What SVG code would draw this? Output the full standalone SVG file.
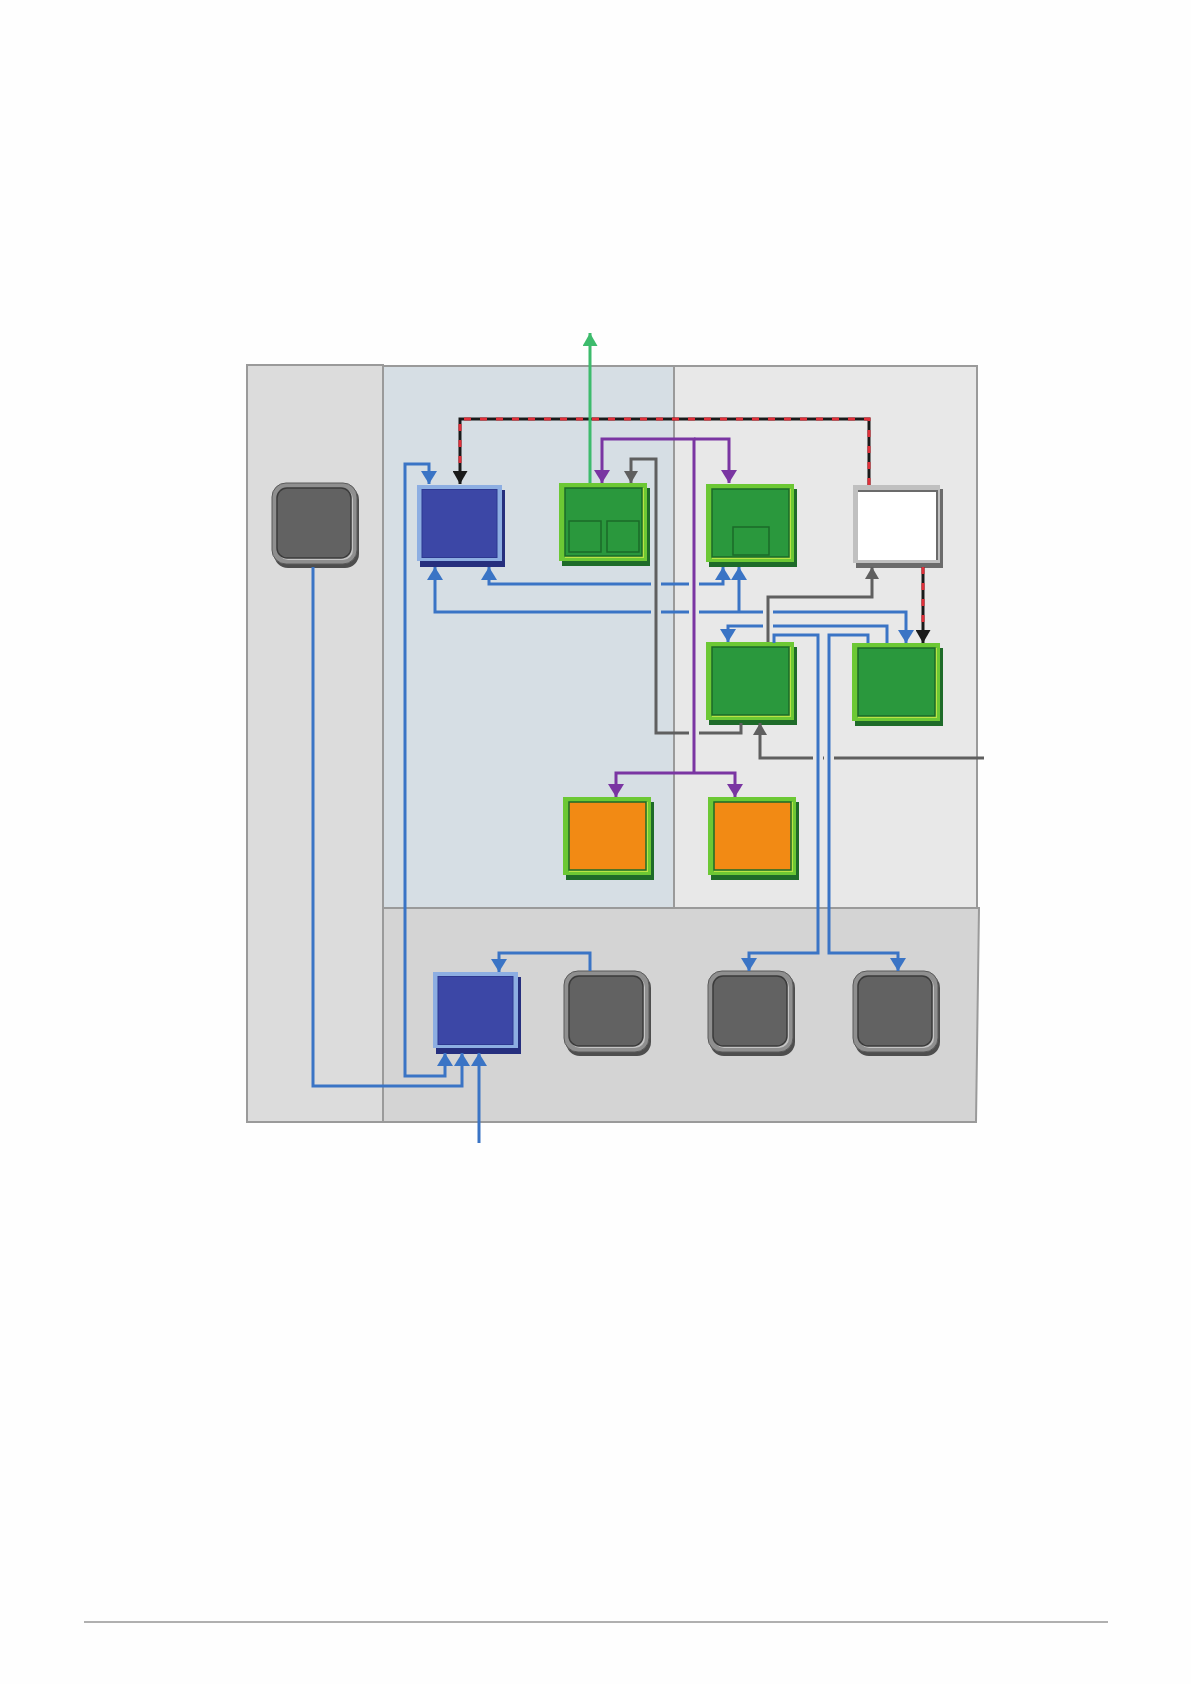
<svg xmlns="http://www.w3.org/2000/svg" xmlns:xlink="http://www.w3.org/1999/xlink" width="1191" height="1684" viewBox="0 0 1191 1684">
<style>
.panel{stroke:#9a9a9a;stroke-width:2}
.c{fill:none;stroke-width:3;stroke-linejoin:miter}
.blue{stroke:#3a74c5}
.purple{stroke:#7a35a2}
.gray{stroke:#5f5f5f}
.green{stroke:#3dbb6c}
.blk{stroke:#1a1a1a}
.red{stroke:#e0303a;stroke-dasharray:7 9}
</style>
<defs>
<marker id="mb" viewBox="0 0 13 16" refX="13" refY="8" markerWidth="13" markerHeight="16" markerUnits="userSpaceOnUse" orient="auto-start-reverse"><path d="M0,0 L13,8 L0,16 z" fill="#3a74c5"/></marker>
<marker id="mp" viewBox="0 0 13 16" refX="13" refY="8" markerWidth="13" markerHeight="16" markerUnits="userSpaceOnUse" orient="auto"><path d="M0,0 L13,8 L0,16 z" fill="#7a35a2"/></marker>
<marker id="mg" viewBox="0 0 12 14" refX="12" refY="7" markerWidth="12" markerHeight="14" markerUnits="userSpaceOnUse" orient="auto"><path d="M0,0 L12,7 L0,14 z" fill="#5f5f5f"/></marker>
<marker id="mk" viewBox="0 0 13 15" refX="13" refY="7.5" markerWidth="13" markerHeight="15" markerUnits="userSpaceOnUse" orient="auto"><path d="M0,0 L13,7.5 L0,15 z" fill="#1a1a1a"/></marker>
<marker id="mgr" viewBox="0 0 13 15" refX="13" refY="7.5" markerWidth="13" markerHeight="15" markerUnits="userSpaceOnUse" orient="auto"><path d="M0,0 L13,7.5 L0,15 z" fill="#3dbb6c"/></marker>
<g id="tGreen">
<rect x="3" y="5" width="88" height="78" fill="#1e6b29"/>
<rect x="0" y="0" width="88" height="78" fill="#6cc834"/>
<rect x="6" y="5" width="79" height="70" fill="#b9e445"/>
<rect x="6" y="5" width="77" height="68" fill="#2a983d" stroke="#1b6a29" stroke-width="1.5"/>
</g>
<g id="tOrange">
<rect x="3" y="5" width="88" height="78" fill="#1e6b29"/>
<rect x="0" y="0" width="88" height="78" fill="#6cc834"/>
<rect x="6" y="5" width="79" height="70" fill="#b9e445"/>
<rect x="6" y="5" width="77" height="68" fill="#f28a14" stroke="#1b6a29" stroke-width="1.5"/>
</g>
<g id="tBlue">
<rect x="3" y="5" width="85" height="77" fill="#262f7e"/>
<rect x="0" y="0" width="85" height="76" fill="#8daee2"/>
<rect x="5" y="4.5" width="75" height="68" fill="#3c47a6" stroke="#2d3890" stroke-width="1"/>
</g>
<g id="tWhite">
<rect x="3" y="4" width="87" height="79" fill="#6b6b6b"/>
<rect x="0" y="0" width="87" height="78" fill="#c0c0c0"/>
<rect x="5" y="5" width="79" height="70" fill="#ffffff"/>
<path d="M5,6 H84 V75" fill="none" stroke="#6b6b6b" stroke-width="2"/>
</g>
<g id="tGray">
<rect x="2" y="3" width="85" height="82" rx="14" fill="#4e4e4e"/>
<rect x="0" y="0" width="85" height="81" rx="14" fill="#8f8f8f" stroke="#5a5a5a" stroke-width="1"/>
<rect x="6" y="6" width="75" height="71" rx="10" fill="#c4c4c4"/>
<rect x="5" y="5" width="74" height="70" rx="10" fill="#626262" stroke="#3b3b3b" stroke-width="1.5"/>
</g>
</defs>
<rect x="0" y="0" width="1191" height="1684" fill="#fefefe"/>
<g id="panels">
<rect class="panel" x="247" y="365" width="136" height="757" fill="#dcdcdc"/>
<rect class="panel" x="383" y="366" width="291" height="542" fill="#d6dee4"/>
<rect class="panel" x="674" y="366" width="303" height="542" fill="#e8e8e8"/>
<polygon class="panel" points="383,908 979,908 976,1122 383,1122" fill="#d4d4d4"/>
</g>
<g id="nodes">
<g id="node-gray-left" transform="translate(272,483)"><use xlink:href="#tGray"/></g>
<g id="node-blue-top" transform="translate(417,485)"><use xlink:href="#tBlue"/></g>
<g id="node-green-1" transform="translate(559,483)"><use xlink:href="#tGreen"/>
<rect x="10" y="38" width="32" height="31" fill="none" stroke="#1b6a29" stroke-width="1.5"/>
<rect x="48" y="38" width="32" height="31" fill="none" stroke="#1b6a29" stroke-width="1.5"/></g>
<g id="node-green-2" transform="translate(706,484)"><use xlink:href="#tGreen"/>
<rect x="27" y="43" width="36" height="28" fill="none" stroke="#1b6a29" stroke-width="1.5"/></g>
<g id="node-white" transform="translate(853,485)"><use xlink:href="#tWhite"/></g>
<g id="node-green-4" transform="translate(706,642)"><use xlink:href="#tGreen"/></g>
<g id="node-green-5" transform="translate(852,643)"><use xlink:href="#tGreen"/></g>
<g id="node-orange-1" transform="translate(563,797)"><use xlink:href="#tOrange"/></g>
<g id="node-orange-2" transform="translate(708,797)"><use xlink:href="#tOrange"/></g>
<g id="node-blue-bottom" transform="translate(433,972)"><use xlink:href="#tBlue"/></g>
<g id="node-gray-b1" transform="translate(564,971)"><use xlink:href="#tGray"/></g>
<g id="node-gray-b2" transform="translate(708,971)"><use xlink:href="#tGray"/></g>
<g id="node-gray-b3" transform="translate(853,971)"><use xlink:href="#tGray"/></g>
</g>
<g id="connectors">
<path class="c blk" d="M869,485 V419 H460 V484" marker-end="url(#mk)"/>
<path class="c red" d="M869,485 V419 H460 V471"/>
<path class="c blk" d="M923,567 V643" marker-end="url(#mk)"/>
<path class="c red" d="M923,567 V630"/>
<path class="c green" d="M590,483 V333" marker-end="url(#mgr)"/>
<path class="c purple" d="M694,773 V439 H602 V483" marker-end="url(#mp)"/>
<path class="c purple" d="M694,439 H729 V483" marker-end="url(#mp)"/>
<path class="c purple" d="M694,773 H616 V797" marker-end="url(#mp)"/>
<path class="c purple" d="M694,773 H735 V797" marker-end="url(#mp)"/>
<path class="c gray" d="M741,723 V733 H699"/>
<path class="c gray" d="M689,733 H656 V459 H631 V483" marker-end="url(#mg)"/>
<path class="c gray" d="M768,642 V597 H872 V567" marker-end="url(#mg)"/>
<path class="c gray" d="M984,758 H834"/>
<path class="c gray" d="M824,758 H823"/>
<path class="c gray" d="M813,758 H760 V723" marker-end="url(#mg)"/>
<path class="c blue" d="M651,584 H489 V567" marker-end="url(#mb)"/>
<path class="c blue" d="M661,584 H689"/>
<path class="c blue" d="M699,584 H723 V567" marker-end="url(#mb)"/>
<path class="c blue" d="M651,612 H435 V567" marker-end="url(#mb)"/>
<path class="c blue" d="M661,612 H689"/>
<path class="c blue" d="M699,612 H763"/>
<path class="c blue" d="M773,612 H906 V643" marker-end="url(#mb)"/>
<path class="c blue" d="M739,612 V567" marker-end="url(#mb)"/>
<path class="c blue" d="M887,643 V626 H773"/>
<path class="c blue" d="M763,626 H728 V642" marker-end="url(#mb)"/>
<path class="c blue" d="M774,643 V635 H818 V953 H749 V971" marker-end="url(#mb)"/>
<path class="c blue" d="M868,643 V635 H829 V953 H898 V971" marker-end="url(#mb)"/>
<path class="c blue" d="M429,484 V464 H405 V1076 H445 V1053" marker-start="url(#mb)" marker-end="url(#mb)"/>
<path class="c blue" d="M313,567 V1086 H462 V1053" marker-end="url(#mb)"/>
<path class="c blue" d="M479,1143 V1053" marker-end="url(#mb)"/>
<path class="c blue" d="M590,971 V953 H499 V972" marker-end="url(#mb)"/>
</g>
<line id="footer-rule" x1="84" y1="1622" x2="1108" y2="1622" stroke="#b0b0b0" stroke-width="2"/>
</svg>
